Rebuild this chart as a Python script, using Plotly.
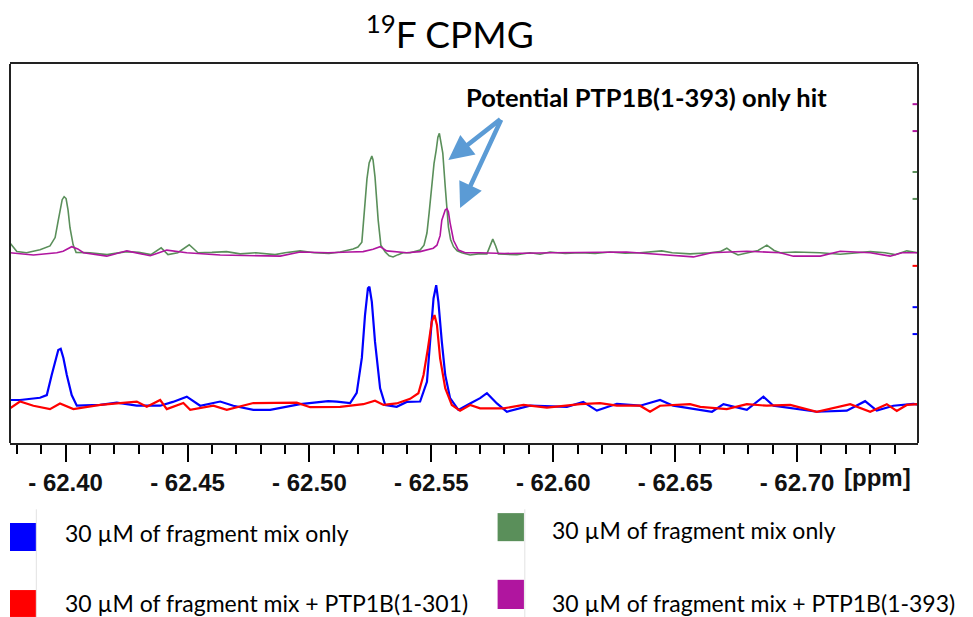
import plotly.graph_objects as go

# chemical shift (ppm) / intensity pairs, baseline = 0
green_ppm = [-62.3772, -62.380, -62.384, -62.3895, -62.3936, -62.3957, -62.3969, -62.3986, -62.3994, -62.4002,
             -62.4010, -62.4018, -62.4031, -62.4043, -62.410, -62.417, -62.425, -62.430, -62.435, -62.4392,
             -62.4420, -62.446, -62.4507, -62.4543, -62.460, -62.466, -62.4716, -62.478, -62.4859, -62.490,
             -62.4962, -62.502, -62.508, -62.5126, -62.5179, -62.5199, -62.5215, -62.5221, -62.5228, -62.5236,
             -62.5245, -62.5256, -62.5261, -62.5269, -62.5275, -62.5282, -62.5293, -62.5311, -62.5327, -62.5343,
             -62.5364, -62.5384, -62.5413, -62.5433, -62.5454, -62.5470, -62.5482, -62.5491, -62.5502, -62.5511,
             -62.5520, -62.5527, -62.5533, -62.5540, -62.5547, -62.5557, -62.5570, -62.5579, -62.5591, -62.5606,
             -62.5625, -62.5659, -62.5692, -62.5728, -62.5740, -62.5752, -62.5764, -62.5775, -62.5802, -62.5851,
             -62.5905, -62.5946, -62.5987, -62.6049, -62.6110, -62.6172, -62.6233, -62.6295, -62.6356, -62.6405,
             -62.6445, -62.6488, -62.6561, -62.6643, -62.6684, -62.6712, -62.6733, -62.6758, -62.6799, -62.6840,
             -62.6876, -62.6906, -62.6931, -62.6993, -62.7095, -62.7177, -62.7300, -62.7361, -62.7402, -62.7450,
             -62.7496]
green_int = [2.6, 0.3, 0.0, 0.8, 1.8, 4.0, 8.2, 14.0, 14.8, 14.3,
             11.3, 6.6, 2.1, 0.1, 0.0, -0.5, 0.3, 0.1, -0.5, 1.3,
             -0.5, 0.0, 2.1, 0.0, 0.1, 0.3, -0.3, 0.0, -0.5, 0.0,
             0.5, 0.0, -0.2, 0.2, 1.0, 1.5, 2.8, 6.9, 13.1, 19.5,
             23.7, 25.5, 24.5, 20.0, 14.0, 8.6, 2.0, 0.2, -0.8, -1.1,
             -0.5, 0.0, 0.0, 0.3, 0.7, 2.0, 5.2, 10.5, 17.4, 23.5,
             27.1, 30.5, 31.5, 29.0, 26.3, 17.4, 6.8, 3.5, 1.6, 0.5,
             0.0, -0.6, -0.3, -0.3, 1.8, 3.6, 1.8, -0.3, -0.4, -0.5,
             0.0, -0.4, 0.2, -0.2, 0.0, -0.2, 0.2, -0.1, 0.0, 0.2,
             0.5, 0.0, -0.3, 0.0, 0.3, 1.2, 0.2, -0.6, 0.0, 0.6,
             2.0, 0.6, 0.0, 0.2, 0.0, -0.4, 0.3, 0.0, -0.5, 0.5,
             0.0]

magenta_ppm = [-62.3772, -62.3868, -62.3964, -62.3990, -62.4025, -62.4050, -62.4073, -62.4169, -62.4251, -62.4347,
               -62.4415, -62.4497, -62.4634, -62.4880, -62.4962, -62.5077, -62.5167, -62.5220, -62.5261, -62.5290,
               -62.5317, -62.5399, -62.5454, -62.5482, -62.5508, -62.5523, -62.5536, -62.5543, -62.5557, -62.5564,
               -62.5570, -62.5577, -62.5584, -62.5591, -62.5611, -62.5639, -62.5700, -62.5800, -62.6000, -62.6300,
               -62.6575, -62.6650, -62.6794, -62.6931, -62.6985, -62.7095, -62.7177, -62.7300, -62.7382, -62.7430,
               -62.7496]
magenta_int = [0.0, -0.6, 0.0, 0.4, 1.6, 1.0, 0.0, -0.9, 0.5, -0.8,
               0.7, 0.0, -0.6, -0.9, 0.2, 0.0, 0.2, 0.3, 0.9, 1.6,
               0.5, 0.0, 0.3, 0.7, 1.2, 2.0, 4.5, 8.6, 11.3, 11.6,
               10.8, 7.9, 5.0, 3.3, 0.7, 0.0, 0.0, -0.2, 0.0, 0.2,
               -1.1, 0.0, 0.4, 0.0, -0.9, -0.9, 0.4, 0.0, -0.9, 0.0,
               0.0]

blue_ppm = [-62.3772, -62.3813, -62.3895, -62.3923, -62.3943, -62.3957, -62.3970, -62.3980, -62.3991, -62.4005,
            -62.4025, -62.4046, -62.4142, -62.4210, -62.4292, -62.4388, -62.4440, -62.4497, -62.4552, -62.4634,
            -62.4688, -62.4770, -62.4839, -62.4962, -62.5077, -62.5112, -62.5167, -62.5194, -62.5215, -62.5228,
            -62.5240, -62.5246, -62.5256, -62.5269, -62.5290, -62.5311, -62.5358, -62.5399, -62.5454, -62.5482,
            -62.5495, -62.5509, -62.5520, -62.5529, -62.5543, -62.5557, -62.5577, -62.5611, -62.5659, -62.5700,
            -62.5728, -62.5769, -62.5810, -62.5905, -62.6056, -62.6123, -62.6179, -62.6261, -62.6356, -62.6438,
            -62.6492, -62.6651, -62.6698, -62.6794, -62.6862, -62.6903, -62.7081, -62.7204, -62.7279, -62.7327,
            -62.7395, -62.7477, -62.7496]
blue_int = [1.5, 1.5, 2.1, 2.8, 8.1, 11.6, 14.7, 15.0, 12.6, 8.1,
            2.8, 0.0, 0.2, 0.8, 0.0, 0.0, 1.0, 2.4, 0.0, 1.1,
            0.0, -1.1, -1.1, 0.4, 1.2, 1.1, 0.7, 3.4, 12.6, 23.9,
            31.0, 31.4, 27.4, 16.9, 4.6, 0.2, -0.3, 1.0, 1.1, 6.3,
            16.9, 28.3, 31.8, 27.4, 16.9, 8.1, 2.0, -1.1, 0.6, 2.0,
            3.3, 0.6, -1.6, 0.0, -0.3, 1.0, -1.3, 0.5, 0.0, 1.5,
            0.0, -1.6, 0.4, -1.1, 2.4, 0.0, -1.6, -1.3, 1.2, -1.3,
            0.0, 0.5, 0.3]

red_ppm = [-62.3772, -62.3813, -62.3868, -62.3936, -62.3977, -62.4032, -62.4142, -62.4292, -62.4333, -62.4388,
           -62.4415, -62.4483, -62.4511, -62.4606, -62.4661, -62.4770, -62.4948, -62.5003, -62.5126, -62.5221,
           -62.5269, -62.5304, -62.5358, -62.5413, -62.5447, -62.5468, -62.5486, -62.5502, -62.5513, -62.5523,
           -62.5536, -62.5557, -62.5584, -62.5618, -62.5659, -62.5700, -62.5796, -62.5878, -62.5974, -62.6110,
           -62.6192, -62.6261, -62.6356, -62.6397, -62.6438, -62.6561, -62.6603, -62.6712, -62.6794, -62.6876,
           -62.6972, -62.7081, -62.7218, -62.7300, -62.7368, -62.7409, -62.7450, -62.7496]
red_int = [-0.7, 1.1, 0.0, -0.9, 0.6, -0.9, 0.2, 1.1, -0.3, 1.5,
           -0.9, 0.7, -1.1, 0.0, -1.1, 0.7, 0.8, -0.4, -0.3, 0.4,
           1.3, 0.2, 0.6, 1.8, 3.3, 8.1, 15.1, 22.2, 23.9, 21.3,
           12.5, 4.6, 0.2, -1.3, 0.2, -0.7, -0.7, 0.2, -0.5, 0.4,
           0.7, 0.0, 0.0, -1.6, 0.0, 0.4, -0.3, -0.9, 0.4, 0.0,
           0.2, -1.6, 0.4, -1.6, 0.4, -1.4, 0.2, 0.4]

major_ticks = [-62.40, -62.45, -62.50, -62.55, -62.60, -62.65, -62.70]
major_labels = ["- 62.40", "- 62.45", "- 62.50", "- 62.55", "- 62.60", "- 62.65", "- 62.70"]

legend_labels = ["30 µM of fragment mix only", "30 µM of fragment mix + PTP1B(1-301)",
                 "30 µM of fragment mix only", "30 µM of fragment mix + PTP1B(1-393)"]

BLUE, RED, GREEN, MAGENTA = "#0000ff", "#ff0000", "#5a8f5a", "#b0159f"
TXT = "Lato"
AXF = "Liberation Sans"

fig = go.Figure()
# lower pair on y, upper pair on y2 (same plot box, different baselines)
fig.add_trace(go.Scatter(x=blue_ppm, y=blue_int, mode="lines", line=dict(color=BLUE, width=2.2), yaxis="y"))
fig.add_trace(go.Scatter(x=red_ppm, y=red_int, mode="lines", line=dict(color=RED, width=2.2), yaxis="y"))
fig.add_trace(go.Scatter(x=green_ppm, y=green_int, mode="lines", line=dict(color=GREEN, width=1.6), yaxis="y2"))
fig.add_trace(go.Scatter(x=magenta_ppm, y=magenta_int, mode="lines", line=dict(color=MAGENTA, width=1.6), yaxis="y2"))

# page has an 8px body margin, margins below compensate
fig.update_layout(
    width=973, height=617,
    margin=dict(l=2, r=63, t=56, b=182),
    paper_bgcolor="white", plot_bgcolor="white",
    showlegend=False,
    title=dict(text="<sup>19</sup>F CPMG", x=0.454, xanchor="center", y=0.956, yanchor="middle",
               font=dict(family=TXT, size=37, color="black")),
    xaxis=dict(range=[-62.3772, -62.7496], tickmode="array", tickvals=major_ticks,
               ticktext=["<b>%s</b>" % t for t in major_labels],
               ticks="outside", ticklen=17, tickwidth=2, tickcolor="black",
               tickfont=dict(family=AXF, size=24, color="#111"),
               minor=dict(tick0=-62.40, dtick=0.01, ticks="outside", ticklen=9, tickwidth=2, tickcolor="black"),
               showline=True, linecolor="#222", linewidth=2, mirror=True,
               showgrid=False, zeroline=False, ticklabelstandoff=0),
    yaxis=dict(range=[-9.84, 90.16], visible=False, showgrid=False, zeroline=False),
    yaxis2=dict(range=[-50.2, 49.8], overlaying="y", visible=False, showgrid=False, zeroline=False),
)

# left/right frame (axes hidden)
fig.add_shape(type="line", xref="paper", yref="paper", x0=0, x1=0, y0=0, y1=1, line=dict(color="#222", width=2))
fig.add_shape(type="line", xref="paper", yref="paper", x0=1, x1=1, y0=0, y1=1, line=dict(color="#222", width=2))

# little per-spectrum scale marks on the right edge
for yv, ax, col in [(39.2, "y2", MAGENTA), (32.1, "y2", MAGENTA), (21.3, "y2", GREEN), (14.2, "y2", GREEN),
                    (36.9, "y", RED), (26.0, "y", BLUE), (18.9, "y", BLUE)]:
    fig.add_shape(type="line", xref="paper", yref=ax, x0=0.994, x1=0.999, y0=yv, y1=yv,
                  line=dict(color=col, width=2))

fig.add_annotation(x=0.955, xref="paper", y=-0.092, yref="paper", text="<b>[ppm]</b>", showarrow=False,
                   font=dict(family=AXF, size=24, color="#111"), xanchor="center", yanchor="middle")

fig.add_annotation(x=-62.6383, xref="x", y=41.2, yref="y2", text="<b>Potential PTP1B(1-393) only hit</b>",
                   showarrow=False, font=dict(family=TXT, size=25.5, color="black"),
                   xanchor="center", yanchor="middle")

for tip_x, tip_y in [(-62.5570, 24.5), (-62.5618, 11.8)]:
    fig.add_annotation(x=tip_x, y=tip_y, xref="x", yref="y2", ax=-62.5789, ay=35.5, axref="x", ayref="y2",
                       text="", showarrow=True, arrowhead=2, arrowsize=1.1, arrowwidth=4.5, arrowcolor="#5b9bd5")

# legend block drawn under the axis (paper coords, plot box = 0..1)
legend_rows = [(0.0, -0.285, -0.211, -0.237, BLUE, legend_labels[0]),
               (0.0, -0.459, -0.388, -0.421, RED, legend_labels[1]),
               (0.537, -0.259, -0.185, -0.230, GREEN, legend_labels[2]),
               (0.537, -0.438, -0.361, -0.423, MAGENTA, legend_labels[3])]
for lx, y0, y1, ty, col, lab in legend_rows:
    fig.add_shape(type="rect", xref="paper", yref="paper", x0=lx, x1=lx + 0.029, y0=y0, y1=y1,
                  fillcolor=col, line=dict(width=0))
    fig.add_annotation(x=lx + 0.058, y=ty, xref="paper", yref="paper", text=lab, showarrow=False,
                       xanchor="left", yanchor="middle", font=dict(family=TXT, size=23, color="black"))
for lx in [0.029, 0.567]:
    fig.add_shape(type="line", xref="paper", yref="paper", x0=lx, x1=lx, y0=-0.48, y1=-0.175,
                  line=dict(color="#e2e2e2", width=1))

fig.write_html("out.html")
